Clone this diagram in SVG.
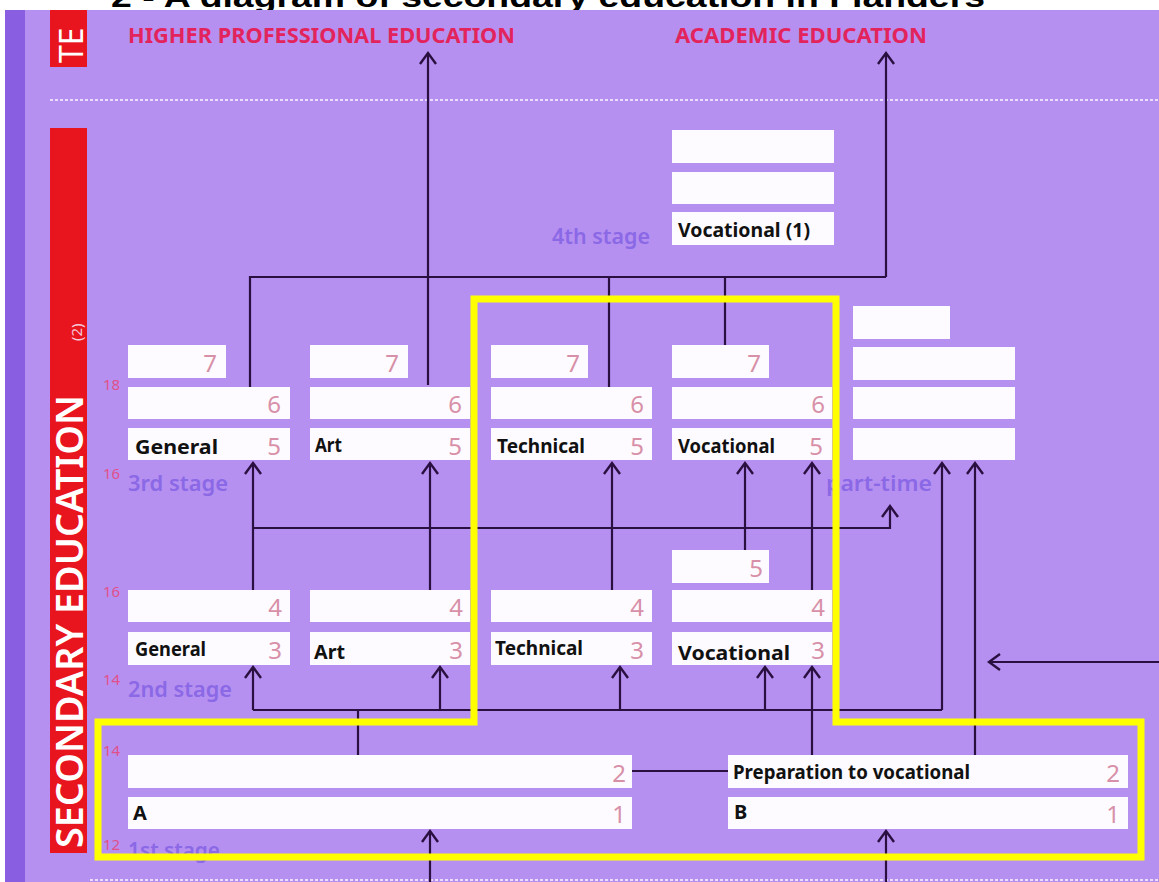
<svg xmlns="http://www.w3.org/2000/svg" width="1159" height="882" viewBox="0 0 1159 882">
<defs>
<style>
.box{fill:#fdfbff}
.lbl{font-family:"Noto Sans","Liberation Sans",sans-serif;font-weight:700;fill:#111;font-size:20px}
.dig{font-family:"Noto Sans","Liberation Sans",sans-serif;font-size:24px;fill:#d890a8;text-anchor:end}
.age{font-family:"Noto Sans","Liberation Sans",sans-serif;font-size:15px;fill:#e0508a}
.stg{font-family:"Noto Sans","Liberation Sans",sans-serif;font-size:21px;fill:#8a68e6;font-weight:600}
.hdr{font-family:"Noto Sans","Liberation Sans",sans-serif;font-size:22px;fill:#e3245c;font-weight:700}
.ln{stroke:#2a1040;stroke-width:2.2;fill:none}
.ar{marker-end:url(#ah)}
.dots{stroke:#f4eaff;stroke-width:2;stroke-dasharray:3 2;opacity:0.85}
</style>
<marker id="ah" markerUnits="userSpaceOnUse" markerWidth="24" markerHeight="24" viewBox="-12 -12 24 24" refX="0" refY="0" orient="auto">
<path d="M-11,-8 L0,0 L-11,8" fill="none" stroke="#2a1040" stroke-width="2.4"/>
</marker>
</defs>
<rect x="0" y="0" width="1159" height="882" fill="#ffffff"/>
<text x="111" y="7" font-family="Liberation Sans,Arial,sans-serif" font-size="30" font-weight="700" fill="#000" textLength="874" lengthAdjust="spacingAndGlyphs">2 - A diagram of secondary education in Flanders</text>
<rect x="5" y="10" width="1154" height="872" fill="#b690f0"/>
<rect x="5" y="10" width="20" height="872" fill="#8a5ee0"/>

<g id="band-tertiary">
<rect x="50" y="10" width="37" height="57" fill="#e8141e"/>
<text transform="translate(83,63) rotate(-90)" font-family="Noto Sans,Liberation Sans,sans-serif" font-size="32" fill="#fff">TE</text>
</g>
<g id="band-secondary">
<rect x="50" y="128" width="37" height="725" fill="#e8141e"/>
<text transform="translate(83,848) rotate(-90)" font-family="Noto Sans,Liberation Sans,sans-serif" font-size="37" font-weight="600" fill="#fff" textLength="453" lengthAdjust="spacingAndGlyphs">SECONDARY EDUCATION</text>
<text transform="translate(82,341) rotate(-90)" font-family="Noto Sans,Liberation Sans,sans-serif" font-size="15" fill="#f5c8d8">(2)</text>
</g>

<line class="dots" x1="50" y1="100" x2="1159" y2="100"/>
<line class="dots" x1="90" y1="880" x2="1159" y2="880"/>

<g id="hpe"><text class="hdr" x="128" y="43" textLength="387" lengthAdjust="spacingAndGlyphs">HIGHER PROFESSIONAL EDUCATION</text></g>
<g id="acad"><text class="hdr" x="675" y="43" textLength="252" lengthAdjust="spacingAndGlyphs">ACADEMIC EDUCATION</text></g>

<g id="ages">
<text class="age" x="103" y="390">18</text>
<text class="age" x="103" y="479">16</text>
<text class="age" x="103" y="597">16</text>
<text class="age" x="103" y="685">14</text>
<text class="age" x="103" y="756">14</text>
<text class="age" x="103" y="850">12</text>
</g>
<g id="stages">
<text class="stg" x="552" y="244" textLength="98" lengthAdjust="spacingAndGlyphs">4th stage</text>
<text class="stg" x="128" y="491" textLength="100" lengthAdjust="spacingAndGlyphs">3rd stage</text>
<text class="stg" x="826" y="491" textLength="106" lengthAdjust="spacingAndGlyphs">part-time</text>
<text class="stg" x="128" y="697" textLength="104" lengthAdjust="spacingAndGlyphs">2nd stage</text>
<text class="stg" x="128" y="858" textLength="92" lengthAdjust="spacingAndGlyphs">1st stage</text>
</g>

<g id="stage4">
<rect class="box" x="672" y="130" width="162" height="33"/>
<rect class="box" x="672" y="172" width="162" height="32"/>
<rect class="box" x="672" y="212" width="162" height="33"/>
<text class="lbl" x="678" y="237" textLength="132" lengthAdjust="spacingAndGlyphs">Vocational (1)</text>
</g>

<g id="general3">
<rect class="box" x="128" y="345" width="98" height="33"/><text class="dig" x="217" y="372">7</text>
<rect class="box" x="128" y="387" width="162" height="32"/><text class="dig" x="281" y="413">6</text>
<rect class="box" x="128" y="428" width="162" height="32"/><text class="dig" x="281" y="455">5</text>
<text class="lbl" x="135" y="454" textLength="83" lengthAdjust="spacingAndGlyphs">General</text>
</g>
<g id="art3">
<rect class="box" x="310" y="345" width="98" height="33"/><text class="dig" x="399" y="372">7</text>
<rect class="box" x="310" y="387" width="160" height="32"/><text class="dig" x="462" y="413">6</text>
<rect class="box" x="310" y="428" width="160" height="32"/><text class="dig" x="462" y="455">5</text>
<text class="lbl" x="315" y="452" textLength="27" lengthAdjust="spacingAndGlyphs">Art</text>
</g>
<g id="technical3">
<rect class="box" x="491" y="345" width="97" height="33"/><text class="dig" x="580" y="372">7</text>
<rect class="box" x="491" y="387" width="161" height="32"/><text class="dig" x="644" y="413">6</text>
<rect class="box" x="491" y="428" width="161" height="32"/><text class="dig" x="644" y="455">5</text>
<text class="lbl" x="497" y="453" textLength="88" lengthAdjust="spacingAndGlyphs">Technical</text>
</g>
<g id="vocational3">
<rect class="box" x="672" y="345" width="97" height="33"/><text class="dig" x="761" y="372">7</text>
<rect class="box" x="672" y="387" width="160" height="32"/><text class="dig" x="825" y="413">6</text>
<rect class="box" x="672" y="428" width="160" height="32"/><text class="dig" x="823" y="455">5</text>
<text class="lbl" x="678" y="453" textLength="97" lengthAdjust="spacingAndGlyphs">Vocational</text>
</g>
<g id="parttime">
<rect class="box" x="853" y="306" width="97" height="33"/>
<rect class="box" x="853" y="347" width="162" height="33"/>
<rect class="box" x="853" y="387" width="162" height="32"/>
<rect class="box" x="853" y="428" width="162" height="32"/>
</g>

<g id="general2">
<rect class="box" x="128" y="590" width="162" height="32"/><text class="dig" x="282" y="616">4</text>
<rect class="box" x="128" y="632" width="162" height="33"/><text class="dig" x="282" y="659">3</text>
<text class="lbl" x="135" y="656" textLength="71" lengthAdjust="spacingAndGlyphs">General</text>
</g>
<g id="art2">
<rect class="box" x="310" y="590" width="160" height="32"/><text class="dig" x="463" y="616">4</text>
<rect class="box" x="310" y="632" width="160" height="33"/><text class="dig" x="463" y="659">3</text>
<text class="lbl" x="314" y="659" font-size="23" textLength="31" lengthAdjust="spacingAndGlyphs">Art</text>
</g>
<g id="technical2">
<rect class="box" x="491" y="590" width="161" height="32"/><text class="dig" x="644" y="616">4</text>
<rect class="box" x="491" y="632" width="161" height="33"/><text class="dig" x="644" y="659">3</text>
<text class="lbl" x="495" y="655" textLength="88" lengthAdjust="spacingAndGlyphs">Technical</text>
</g>
<g id="vocational2">
<rect class="box" x="672" y="550" width="97" height="33"/><text class="dig" x="763" y="577">5</text>
<rect class="box" x="672" y="590" width="160" height="32"/><text class="dig" x="825" y="616">4</text>
<rect class="box" x="672" y="632" width="160" height="33"/><text class="dig" x="825" y="659">3</text>
<text class="lbl" x="678" y="660" font-size="23" textLength="112" lengthAdjust="spacingAndGlyphs">Vocational</text>
</g>

<g id="stage1A">
<rect class="box" x="128" y="755" width="504" height="33"/><text class="dig" x="626" y="782">2</text>
<rect class="box" x="128" y="797" width="504" height="32"/><text class="dig" x="626" y="823">1</text>
<text class="lbl" x="133" y="820" font-size="18">A</text>
</g>
<g id="stage1B">
<rect class="box" x="728" y="755" width="400" height="33"/><text class="dig" x="1120" y="782">2</text>
<rect class="box" x="728" y="797" width="400" height="32"/><text class="dig" x="1120" y="823">1</text>
<text class="lbl" x="733" y="779" textLength="237" lengthAdjust="spacingAndGlyphs">Preparation to vocational</text>
<text class="lbl" x="734" y="819" font-size="17">B</text>
</g>

<g id="connectors">
<path class="ln" d="M250,387 V277 H886"/>
<path class="ln ar" d="M428,385 V53"/>
<path class="ln" d="M609,387 V277"/>
<path class="ln" d="M725,345 V277"/>
<path class="ln ar" d="M886,277 V53"/>

<path class="ln ar" d="M253,590 V463"/>
<path class="ln ar" d="M430,590 V463"/>
<path class="ln ar" d="M612,590 V463"/>
<path class="ln ar" d="M745,550 V463"/>
<path class="ln ar" d="M812,590 V463"/>
<path class="ln ar" d="M253,528 H890 V506"/>
<path class="ln ar" d="M942,710 V463"/>
<path class="ln ar" d="M975,755 V463"/>

<path class="ln" d="M253,710 H942"/>
<path class="ln ar" d="M253,710 V667"/>
<path class="ln ar" d="M440,710 V667"/>
<path class="ln ar" d="M620,710 V667"/>
<path class="ln ar" d="M765,710 V667"/>
<path class="ln ar" d="M812,755 V667"/>
<path class="ln" d="M358,710 V755"/>
<path class="ln ar" d="M1159,662 H989"/>

<path class="ln" d="M632,771 H728"/>
<path class="ln ar" d="M430,882 V831"/>
<path class="ln ar" d="M886,882 V831"/>
</g>

<g id="highlight">
<polygon points="98,722 474,722 474,299 836,299 836,722 1141,722 1141,857 98,857" fill="none" stroke="#ffff00" stroke-width="7" stroke-linejoin="miter"/>
</g>
</svg>
